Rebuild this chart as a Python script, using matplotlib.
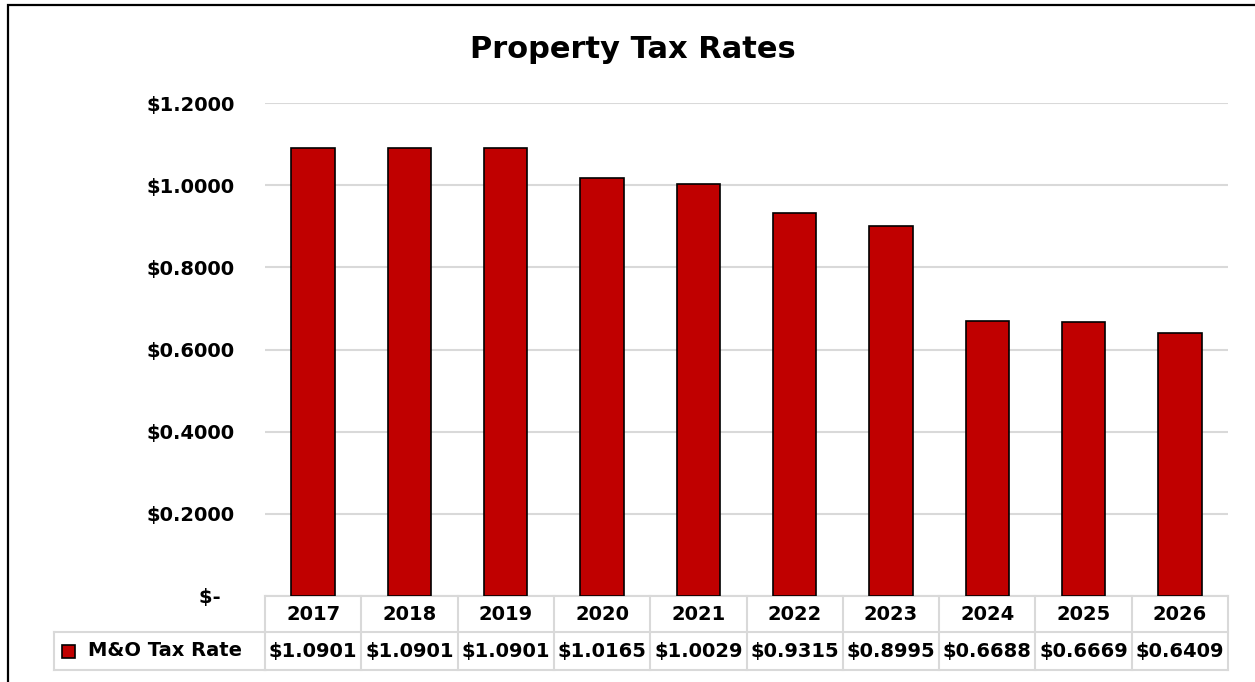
import matplotlib.pyplot as plt
from matplotlib.patches import Rectangle
from matplotlib.lines import Line2D

years = ['2017', '2018', '2019', '2020', '2021', '2022', '2023', '2024', '2025', '2026']
rates = [1.0901, 1.0901, 1.0901, 1.0165, 1.0029, 0.9315, 0.8995, 0.6688, 0.6669, 0.6409]
series_name = 'M&O Tax Rate'
yticks = [0.0, 0.2, 0.4, 0.6, 0.8, 1.0, 1.2]

W, H = 1255, 682
plt.rcParams['font.family'] = ['DejaVu Sans']
plt.rcParams['font.weight'] = 'bold'
FS = 14

fig = plt.figure(figsize=(W / 100, H / 100), dpi=100)

def fx(px):
    return px / W

def fy(py):
    return 1 - py / H

# outer chart frame (cropped at right and bottom)
fig.patches.append(Rectangle((fx(8), fy(H + 20)), 1.2, fy(5) - fy(H + 20),
                             transform=fig.transFigure, fill=False,
                             edgecolor='black', linewidth=1.6))

ax = fig.add_axes([fx(265), fy(596), fx(1228) - fx(265), fy(103) - fy(596)])
x = range(len(years))
ax.bar(x, rates, width=0.45, color='#C00000', edgecolor='black', linewidth=1.2, zorder=3)
ax.set_xlim(-0.5, len(years) - 0.5)
ax.set_ylim(0, 1.2)
ax.set_yticks(yticks)
ax.set_yticklabels(['$-  '] + ['$%.4f' % v for v in yticks[1:]], fontsize=FS, fontweight='bold')
ax.tick_params(axis='y', length=0, pad=22)
ax.set_xticks([])
ax.grid(axis='y', color='#d9d9d9', linewidth=1.5, zorder=0)
for s in ax.spines.values():
    s.set_visible(False)

fig.text(fx(633), fy(50), 'Property Tax Rates', ha='center', va='center',
         fontsize=22, fontweight='bold')

# data table below the axis
grid_c = '#d9d9d9'
ytop = 0.0
y_mid = -36 / 493 * 1.2
y_bot = -74 / 493 * 1.2
tcfg = dict(color=grid_c, linewidth=1.5, clip_on=False, zorder=1)
ax.add_line(Line2D([-0.5, len(years) - 0.5], [ytop, ytop], **tcfg))
ax.add_line(Line2D([-0.5, len(years) - 0.5], [y_mid, y_mid], **tcfg))
ax.add_line(Line2D([-0.5, len(years) - 0.5], [y_bot, y_bot], **tcfg))
for i in range(len(years) + 1):
    ax.add_line(Line2D([i - 0.5, i - 0.5], [ytop, y_bot], **tcfg))
# legend cell, extends left into figure area
fig.add_artist(Line2D([fx(54), fx(265)], [fy(632), fy(632)], color=grid_c, linewidth=1.5))
fig.add_artist(Line2D([fx(54), fx(265)], [fy(670), fy(670)], color=grid_c, linewidth=1.5))
fig.add_artist(Line2D([fx(54), fx(54)], [fy(632), fy(670)], color=grid_c, linewidth=1.5))

for i, (yr, r) in enumerate(zip(years, rates)):
    ax.text(i, y_mid / 2, yr, ha='center', va='center', fontsize=FS,
            fontweight='bold', clip_on=False)
    ax.text(i, (y_mid + y_bot) / 2, '$%.4f' % r, ha='center', va='center',
            fontsize=FS, fontweight='bold', clip_on=False)

fig.patches.append(Rectangle((fx(62), fy(658)), fx(75) - fx(62), fy(645) - fy(658),
                             transform=fig.transFigure, facecolor='#C00000',
                             edgecolor='black', linewidth=1.2))
fig.text(fx(88), fy(651), series_name, ha='left', va='center', fontsize=FS,
         fontweight='bold')

fig.savefig('out.png', dpi=100)
